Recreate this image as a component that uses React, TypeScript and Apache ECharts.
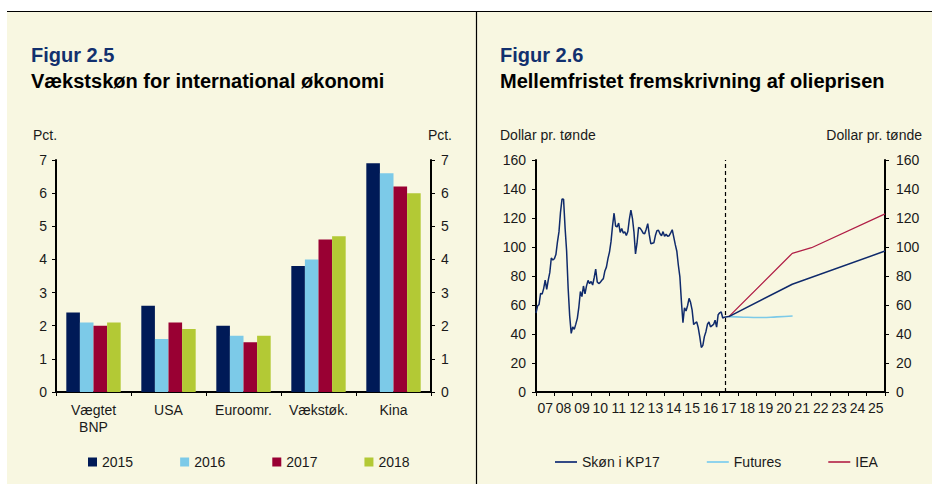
import React, { useEffect, useRef } from 'react';
import * as echarts from 'echarts';

const FONT = '"Liberation Sans", Arial, Helvetica, sans-serif';
const TEXT = '#1a1a1a';
const TITLE_BLUE = '#12306E';

// ---- Figur 2.5 data ----
const barCategories = ['Vægtet\nBNP', 'USA', 'Euroomr.', 'Vækstøk.', 'Kina'];
const growth2015 = [2.4, 2.6, 2.0, 3.8, 6.9];
const growth2016 = [2.1, 1.6, 1.7, 4.0, 6.6];
const growth2017 = [2.0, 2.1, 1.5, 4.6, 6.2];
const growth2018 = [2.1, 1.9, 1.7, 4.7, 6.0];
const barSeriesNames = ['2015', '2016', '2017', '2018'];
const barColors = ['#001A57', '#7CCAE8', '#990033', '#B3C935'];

// ---- Figur 2.6 data ----
const yearLabels = ['07', '08', '09', '10', '11', '12', '13', '14', '15', '16', '17', '18', '19', '20', '21', '22', '23', '24', '25'];
const oilStartYear = 2007;
// monthly oil price, Jan 2007 - Apr 2017 (dollar per barrel)
const oilMonthly = [
  54.5, 59.3, 60.4, 68.0, 67.5, 71.3, 77.2, 70.8, 77.1, 82.3, 92.4, 91.0,
  91.9, 94.8, 103.3, 110.4, 123.9, 133.1, 133.0, 113.2, 97.2, 71.6, 52.5, 40.4,
  44.9, 43.2, 46.8, 50.8, 58.6, 69.3, 65.8, 73.1, 67.7, 73.2, 77.0, 74.7,
  76.2, 73.8, 78.8, 84.8, 75.9, 74.8, 75.6, 77.1, 78.2, 83.5, 86.1, 92.0,
  96.5, 103.7, 114.6, 123.3, 114.5, 113.9, 116.5, 110.1, 112.8, 109.6, 110.5, 107.9,
  110.7, 119.3, 125.5, 119.8, 110.3, 95.2, 102.6, 113.4, 113.0, 111.5, 109.5, 109.2,
  112.3, 116.1, 108.5, 102.3, 102.6, 102.9, 107.9, 111.3, 111.6, 109.1, 107.8, 110.6,
  107.4, 108.8, 107.4, 107.8, 109.7, 111.9, 106.8, 101.6, 97.1, 87.4, 79.4, 62.3,
  47.8, 58.1, 55.9, 59.5, 64.6, 61.7, 56.5, 46.5, 47.6, 48.4, 44.3, 38.0,
  30.7, 32.2, 38.2, 41.6, 46.7, 48.3, 44.9, 45.8, 46.6, 49.5, 44.7, 53.3,
  54.6, 55.2, 51.0, 51.6,
];
const skonProjection = [[2017.5, 52.0], [2020.95, 74.3], [2026.0, 97.2]];
const futuresCurve = [[2017.5, 52.0], [2018.3, 51.6], [2019.2, 51.4], [2020.1, 51.8], [2020.97, 52.4]];
const ieaCurve = [[2017.5, 52.0], [2020.95, 95.6], [2022.0, 99.5], [2026.0, 122.8]];
const forecastStart = 2017.3;

const axisLineStyle = { show: true, lineStyle: { color: '#000', width: 2 } };
const axisTickStyle = { show: true, length: 4, lineStyle: { color: '#000', width: 1 } };
const labelStyle = { color: TEXT, fontSize: 14, fontFamily: FONT };

export default function App() {
  const ref = useRef<HTMLDivElement>(null);

  useEffect(() => {
    if (!ref.current) return;
    const chart = echarts.init(ref.current, undefined, { renderer: 'svg' });

    const skonData = [
      ...oilMonthly.map((v, i) => [oilStartYear + i / 12, v]),
      ...skonProjection,
    ];

    const barData = [growth2015, growth2016, growth2017, growth2018];

    chart.setOption({
      animation: false,
      backgroundColor: '#ffffff',
      textStyle: { fontFamily: FONT },
      graphic: [
        { type: 'rect', z: -100, shape: { x: 7, y: 12, width: 925, height: 472 }, style: { fill: '#F8F7E1' } },
        { type: 'line', shape: { x1: 7, y1: 11.5, x2: 932, y2: 11.5 }, style: { stroke: '#000', lineWidth: 1.2 } },
        { type: 'line', shape: { x1: 476.5, y1: 12, x2: 476.5, y2: 484 }, style: { stroke: '#000', lineWidth: 1.2 } },
        { type: 'text', x: 31, y: 54.5, style: { text: 'Figur 2.5', fill: TITLE_BLUE, font: `bold 20px ${FONT}`, verticalAlign: 'middle' } },
        { type: 'text', x: 31, y: 81, style: { text: 'Vækstskøn for international økonomi', fill: '#000', font: `bold 20px ${FONT}`, verticalAlign: 'middle' } },
        { type: 'text', x: 500, y: 54.5, style: { text: 'Figur 2.6', fill: TITLE_BLUE, font: `bold 20px ${FONT}`, verticalAlign: 'middle' } },
        { type: 'text', x: 500, y: 81, style: { text: 'Mellemfristet fremskrivning af olieprisen', fill: '#000', font: `bold 20px ${FONT}`, verticalAlign: 'middle' } },
        { type: 'text', x: 33, y: 135, style: { text: 'Pct.', fill: TEXT, font: `14px ${FONT}`, verticalAlign: 'middle' } },
        { type: 'text', x: 452, y: 135, style: { text: 'Pct.', fill: TEXT, font: `14px ${FONT}`, verticalAlign: 'middle', align: 'right' } },
        { type: 'text', x: 500, y: 135, style: { text: 'Dollar pr. tønde', fill: TEXT, font: `14px ${FONT}`, verticalAlign: 'middle' } },
        { type: 'text', x: 922, y: 135, style: { text: 'Dollar pr. tønde', fill: TEXT, font: `14px ${FONT}`, verticalAlign: 'middle', align: 'right' } },
      ],
      grid: [
        { left: 56, top: 160, width: 375, height: 232 },
        { left: 536, top: 160, width: 349, height: 232 },
      ],
      xAxis: [
        {
          gridIndex: 0, type: 'category', data: barCategories,
          axisLine: axisLineStyle, axisTick: { ...axisTickStyle, interval: 0 },
          axisLabel: { ...labelStyle, interval: 0, margin: 9, lineHeight: 17 },
          splitLine: { show: false },
        },
        {
          gridIndex: 1, type: 'category', data: yearLabels, boundaryGap: true,
          axisLine: axisLineStyle, axisTick: { ...axisTickStyle, interval: 0 },
          axisLabel: { ...labelStyle, interval: 0, margin: 9 },
          splitLine: { show: false },
        },
        {
          gridIndex: 1, type: 'value', min: 2007, max: 2026, interval: 1, show: false,
        },
      ],
      yAxis: [
        {
          gridIndex: 0, type: 'value', min: 0, max: 7, interval: 1, position: 'left',
          axisLine: axisLineStyle, axisTick: axisTickStyle,
          axisLabel: { ...labelStyle, margin: 9 }, splitLine: { show: false },
        },
        {
          gridIndex: 0, type: 'value', min: 0, max: 7, interval: 1, position: 'right',
          axisLine: axisLineStyle, axisTick: axisTickStyle,
          axisLabel: { ...labelStyle, margin: 10 }, splitLine: { show: false },
        },
        {
          gridIndex: 1, type: 'value', min: 0, max: 160, interval: 20, position: 'left',
          axisLine: axisLineStyle, axisTick: axisTickStyle,
          axisLabel: { ...labelStyle, margin: 10 }, splitLine: { show: false },
        },
        {
          gridIndex: 1, type: 'value', min: 0, max: 160, interval: 20, position: 'right',
          axisLine: axisLineStyle, axisTick: axisTickStyle,
          axisLabel: { ...labelStyle, margin: 11 }, splitLine: { show: false },
        },
      ],
      legend: [
        {
          data: barSeriesNames, left: 88, top: 455, padding: 0,
          icon: 'rect', itemWidth: 9, itemHeight: 9, itemGap: 47,
          selectedMode: false, textStyle: { ...labelStyle },
        },
        {
          data: ['Skøn i KP17', 'Futures', 'IEA'], left: 555, top: 455, padding: 0,
          icon: 'rect', itemWidth: 22, itemHeight: 2, itemGap: 47,
          selectedMode: false, textStyle: { ...labelStyle },
        },
      ],
      series: [
        ...barSeriesNames.map((name, k) => ({
          name, type: 'bar', xAxisIndex: 0, yAxisIndex: 0,
          data: barData[k], barGap: '0%', barCategoryGap: '27.5%',
          itemStyle: { color: barColors[k] },
        })),
        {
          name: 'Skøn i KP17', type: 'line', xAxisIndex: 2, yAxisIndex: 2,
          data: skonData, showSymbol: false, symbol: 'none',
          lineStyle: { color: '#0F2A6B', width: 1.5 }, itemStyle: { color: '#334A85' },
          z: 4,
          markLine: {
            silent: true, symbol: ['none', 'none'], label: { show: false },
            lineStyle: { color: '#000', type: [4, 3], width: 1.2 },
            data: [{ xAxis: forecastStart }],
          },
        },
        {
          name: 'Futures', type: 'line', xAxisIndex: 2, yAxisIndex: 2,
          data: futuresCurve, showSymbol: false, symbol: 'none', smooth: true,
          lineStyle: { color: '#7CCAE8', width: 1.6 }, itemStyle: { color: '#8FD3EC' },
          z: 3,
        },
        {
          name: 'IEA', type: 'line', xAxisIndex: 2, yAxisIndex: 2,
          data: ieaCurve, showSymbol: false, symbol: 'none',
          lineStyle: { color: '#B01E46', width: 1.3 }, itemStyle: { color: '#C04A64' },
          z: 3,
        },
      ],
    });

    return () => chart.dispose();
  }, []);

  return (
    <div
      ref={ref}
      style={{ position: 'absolute', left: 0, top: 0, width: 932, height: 484 }}
    />
  );
}
